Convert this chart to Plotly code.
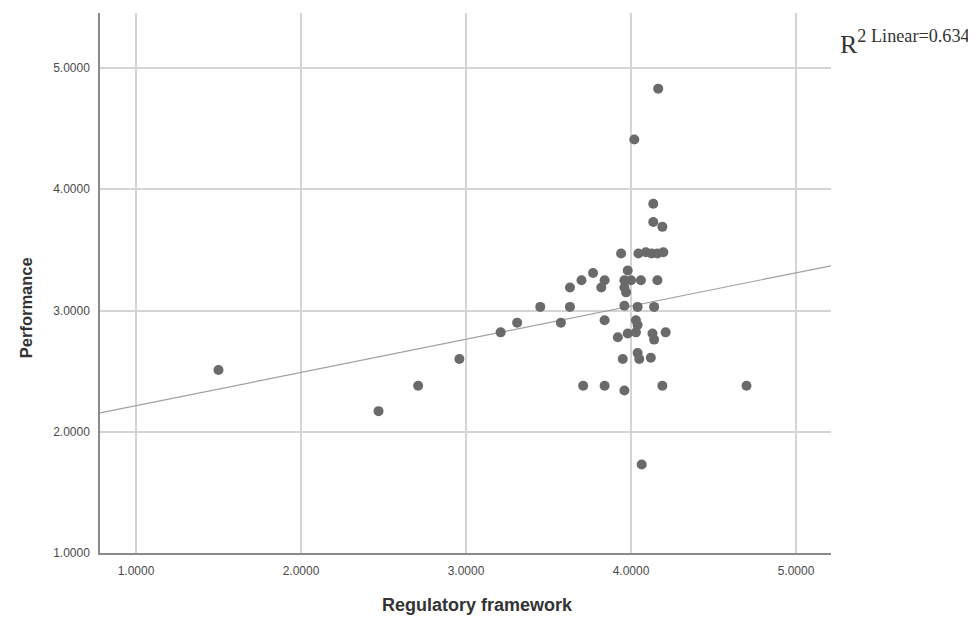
import plotly.graph_objects as go
import numpy as np

# Data
regulatory_framework = [1.50, 2.47, 2.71, 2.96, 3.21, 3.31, 3.45, 3.575, 3.63, 3.63,
                        3.70, 3.77, 3.82, 3.84, 3.84, 3.71, 3.84, 3.96, 3.95, 4.04,
                        4.05, 4.12, 3.92, 3.98, 4.03, 4.13, 4.14, 4.21, 4.03, 4.04,
                        3.96, 4.04, 4.14, 3.96, 3.97, 3.96, 4.00, 4.06, 4.16, 3.98,
                        3.94, 4.045, 4.09, 4.125, 4.16, 4.196, 4.19, 4.135, 4.135, 4.02,
                        4.165, 4.19, 4.70, 4.065]
performance = [2.51, 2.17, 2.38, 2.60, 2.82, 2.90, 3.03, 2.90, 3.03, 3.19,
               3.25, 3.31, 3.19, 3.25, 2.92, 2.38, 2.38, 2.34, 2.60, 2.65,
               2.60, 2.61, 2.78, 2.81, 2.82, 2.81, 2.76, 2.82, 2.92, 2.88,
               3.04, 3.03, 3.03, 3.19, 3.15, 3.25, 3.25, 3.25, 3.25, 3.33,
               3.47, 3.47, 3.48, 3.47, 3.47, 3.48, 3.69, 3.73, 3.88, 4.41,
               4.83, 2.38, 2.38, 1.73]

fit_intercept = 1.941
fit_slope = 0.274
r2_label = "R<sup>2 Linear=0.634</sup>"
x_title = "<b>Regulatory framework</b>"
y_title = "<b>Performance</b>"

tick_vals = [1, 2, 3, 4, 5]
x_range = [0.782, 5.212]
y_range = [1.0, 5.454]

fit_x = np.array(x_range)
fit_y = fit_intercept + fit_slope * fit_x

fig = go.Figure()
fig.add_trace(go.Scatter(x=fit_x, y=fit_y, mode="lines",
                         line=dict(color="#a0a0a0", width=1.2),
                         hoverinfo="skip", showlegend=False))
fig.add_trace(go.Scatter(x=regulatory_framework, y=performance, mode="markers",
                         marker=dict(color="#6a6a6a", size=10, line=dict(width=0)),
                         showlegend=False))

axis_font = dict(family="Liberation Sans, Arial, sans-serif", size=12, color="#4a4a4a")
title_font_family = "Liberation Sans, Arial, sans-serif"
common_axis = dict(tickvals=tick_vals, tickformat=".4f",
                   showgrid=True, gridcolor="#d4d4d4", gridwidth=1.5,
                   showline=True, linecolor="#8a8a8a", linewidth=1.5,
                   zeroline=False, ticks="outside", ticklen=6, tickcolor="rgba(0,0,0,0)",
                   tickfont=axis_font)
fig.update_xaxes(range=x_range, **common_axis)
fig.update_yaxes(range=y_range, **common_axis)

fig.add_annotation(text=x_title, xref="paper", yref="paper", x=0.517, y=-0.0963,
                   xanchor="center", yanchor="middle", showarrow=False,
                   font=dict(family=title_font_family, size=18, color="#333333"))
fig.add_annotation(text=y_title, xref="paper", yref="paper", x=-0.101, y=0.4537,
                   xanchor="center", yanchor="middle", showarrow=False, textangle=-90,
                   font=dict(family=title_font_family, size=16.5, color="#333333"))
fig.add_annotation(text=r2_label, xref="paper", yref="paper", x=1.0096, y=0.946,
                   xanchor="left", yanchor="middle", showarrow=False,
                   font=dict(family="Liberation Serif, Times New Roman, serif", size=26, color="#333333"))

fig.update_layout(width=968, height=612, plot_bgcolor="white", paper_bgcolor="white",
                  margin=dict(l=92, r=145, t=5, b=67, autoexpand=False))

fig.write_html("out.html")
